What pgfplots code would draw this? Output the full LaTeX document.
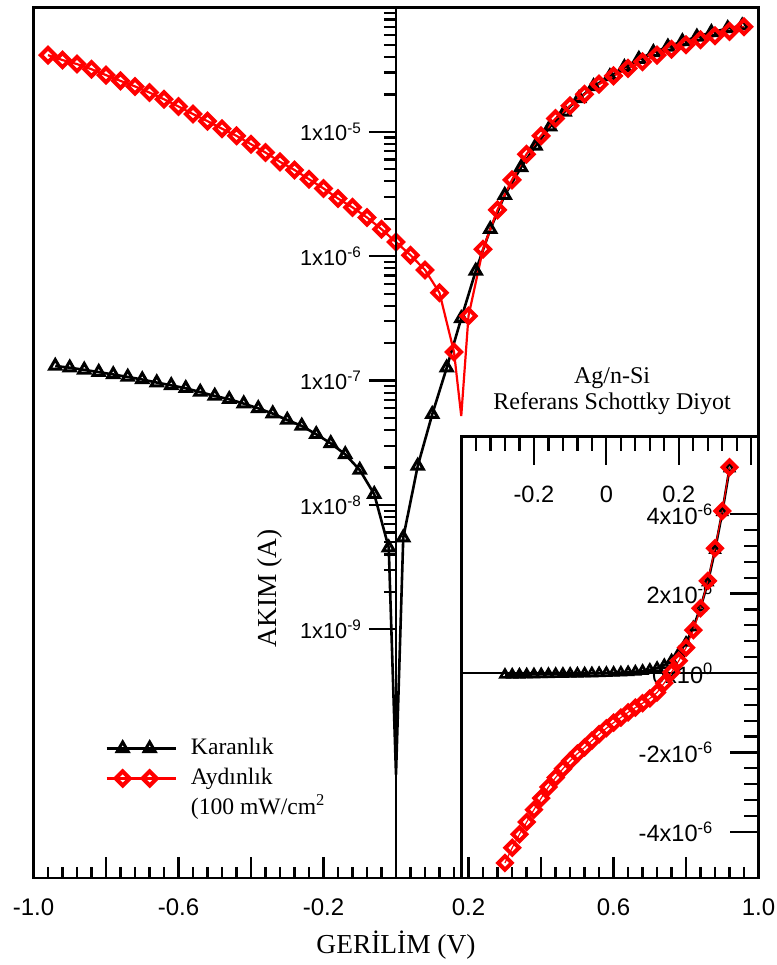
\documentclass[border=0pt]{standalone}
\usepackage{pgfplots}
\pgfplotsset{compat=1.18}
\usepackage{pgfplotstable}
\usepackage{fontspec}
\setmainfont{Liberation Serif}
\newfontfamily\arial{Liberation Sans}

% Dark current, log scale (V in volts, I in amperes); the V = 0 row is the dip of the line
\pgfplotstableread{
V I
-0.94 1.31e-7
-0.90 1.27e-7
-0.86 1.22e-7
-0.82 1.17e-7
-0.78 1.12e-7
-0.74 1.07e-7
-0.70 1.02e-7
-0.66 9.64e-8
-0.62 9.16e-8
-0.58 8.67e-8
-0.54 8.09e-8
-0.50 7.52e-8
-0.46 7.08e-8
-0.42 6.53e-8
-0.38 5.98e-8
-0.34 5.43e-8
-0.30 4.82e-8
-0.26 4.32e-8
-0.22 3.70e-8
-0.18 3.13e-8
-0.14 2.55e-8
-0.10 1.91e-8
-0.06 1.22e-8
-0.02 4.53e-9
0.00 6.8e-11
0.02 5.46e-9
0.06 2.06e-8
0.10 5.36e-8
0.14 1.27e-7
0.18 3.16e-7
0.22 7.62e-7
0.26 1.65e-6
0.30 3.10e-6
0.345 5.18e-6
0.385 7.71e-6
0.425 1.10e-5
0.465 1.45e-5
0.505 1.86e-5
0.545 2.32e-5
0.59 2.79e-5
0.63 3.30e-5
0.67 3.85e-5
0.71 4.36e-5
0.75 4.83e-5
0.79 5.33e-5
0.83 5.81e-5
0.87 6.31e-5
0.915 6.79e-5
0.955 7.13e-5
}\darkmain

% Illuminated current, log scale; the V = 0.18 row is the dip of the line
\pgfplotstableread{
V I
-0.96 4.14e-5
-0.92 3.78e-5
-0.88 3.51e-5
-0.84 3.19e-5
-0.80 2.86e-5
-0.76 2.57e-5
-0.72 2.32e-5
-0.68 2.07e-5
-0.64 1.83e-5
-0.60 1.60e-5
-0.56 1.39e-5
-0.52 1.22e-5
-0.48 1.06e-5
-0.44 9.29e-6
-0.40 7.96e-6
-0.36 6.82e-6
-0.32 5.74e-6
-0.28 4.94e-6
-0.24 4.16e-6
-0.20 3.51e-6
-0.16 2.91e-6
-0.12 2.47e-6
-0.08 2.05e-6
-0.04 1.65e-6
0.00 1.30e-6
0.04 1.02e-6
0.08 7.76e-7
0.12 5.08e-7
0.16 1.70e-7
0.18 5.19e-8
0.20 3.31e-7
0.24 1.14e-6
0.28 2.36e-6
0.32 4.11e-6
0.36 6.62e-6
0.40 9.29e-6
0.44 1.28e-5
0.48 1.62e-5
0.52 2.01e-5
0.56 2.42e-5
0.60 2.82e-5
0.64 3.24e-5
0.68 3.66e-5
0.72 4.14e-5
0.76 4.62e-5
0.80 5.01e-5
0.84 5.50e-5
0.88 5.92e-5
0.92 6.43e-5
0.96 7.00e-5
}\lightmain

% Linear-scale I-V near zero bias
\pgfplotstableread{
V Idark Ilight
-0.28 -4.5e-8 -4.78e-6
-0.26 -4.3e-8 -4.40e-6
-0.24 -4.0e-8 -4.06e-6
-0.22 -3.7e-8 -3.75e-6
-0.20 -3.4e-8 -3.44e-6
-0.18 -3.1e-8 -3.15e-6
-0.16 -2.8e-8 -2.87e-6
-0.14 -2.5e-8 -2.63e-6
-0.12 -2.2e-8 -2.41e-6
-0.10 -1.9e-8 -2.21e-6
-0.08 -1.6e-8 -2.03e-6
-0.06 -1.2e-8 -1.87e-6
-0.04 -8e-9 -1.70e-6
-0.02 -4e-9 -1.54e-6
0.00 0 -1.39e-6
0.02 5e-9 -1.25e-6
0.04 1.2e-8 -1.12e-6
0.06 2.1e-8 -0.99e-6
0.08 3.5e-8 -0.87e-6
0.10 5.4e-8 -0.76e-6
0.12 8.2e-8 -0.64e-6
0.14 1.27e-7 -0.49e-6
0.16 2.0e-7 -0.25e-6
0.18 3.16e-7 0.02e-6
0.20 5.0e-7 0.31e-6
0.22 7.6e-7 0.64e-6
0.24 1.15e-6 1.08e-6
0.26 1.65e-6 1.63e-6
0.28 2.28e-6 2.32e-6
0.30 3.10e-6 3.14e-6
0.32 4.05e-6 4.08e-6
0.34 5.15e-6 5.18e-6
}\inset

\pgfplotsset{
  darkstyle/.style={black, line width=1.3pt, mark=triangle, mark size=3.2pt,
    mark options={solid, line width=1.5pt}},
  lightstyle/.style={red, line width=1.1pt, mark=square, mark size=2.5pt,
    mark options={solid, rotate=45, line width=2pt}},
}

\begin{document}
\begin{tikzpicture}
\useasboundingbox (-16.75pt,-43.5pt) rectangle (371.75pt,439pt);

% main log-scale panel
\begin{axis}[
  at={(0,0)}, anchor=south west,
  scale only axis, width=362.5pt, height=435.25pt,
  xmin=-1, xmax=1, ymode=log, ymin=1e-11, ymax=1e-4,
  axis line style={line width=1.3pt},
  xtick={-1,-0.8,-0.6,-0.4,-0.2,0,0.2,0.4,0.6,0.8,1},
  xticklabels={-1.0,,-0.6,,-0.2,,0.2,,0.6,,1.0},
  minor x tick num=4,
  xtick pos=lower,
  ymajorticks=false, yminorticks=false,
  tick align=inside,
  major tick length=10.5pt, minor tick length=5.5pt,
  every tick/.style={black, line width=1.1pt},
  xticklabel style={font=\arial\fontsize{12}{14}\selectfont, anchor=north, yshift=-7pt},
  xlabel={GERİLİM (V)},
  xlabel style={font=\fontsize{13.7}{16}\selectfont, at={(axis description cs:0.5,0)}, anchor=center, yshift=-33.5pt},
  legend style={at={(rel axis cs:0.0986,0.1654)}, anchor=north west, draw=none, fill=none,
    inner sep=0pt, column sep=6pt, row sep=1pt, font=\fontsize{11.8}{14}\selectfont,
    nodes={inner sep=1pt, text height=9pt, text depth=3pt}},
  legend cell align=left,
  legend image code/.code={\draw[#1, mark indices={2,3}] plot coordinates {(0pt,0pt) (8pt,0pt) (21.5pt,0pt) (34.5pt,0pt)};},
]
\addplot[darkstyle, mark indices={1,2,3,4,5,6,7,8,9,10,11,12,13,14,15,16,17,18,19,20,21,22,23,24,26,27,28,29,30,31,32,33,34,35,36,37,38,39,40,41,42,43,44,45,46,47,48,49}]
  table[x=V, y=I] {\darkmain};
\addlegendentry{Karanlık}
\addplot[lightstyle, mark indices={1,2,3,4,5,6,7,8,9,10,11,12,13,14,15,16,17,18,19,20,21,22,23,24,25,26,27,28,29,31,32,33,34,35,36,37,38,39,40,41,42,43,44,45,46,47,48,49,50}]
  table[x=V, y=I] {\lightmain};
\addlegendentry{Aydınlık}
\addlegendimage{empty legend}
\addlegendentry{(100 mW/cm\textsuperscript{2}}
\node[align=center, font=\fontsize{12}{13}\selectfont] at (rel axis cs:0.798,0.5594) {Ag/n-Si\\Referans Schottky Diyot};
\end{axis}

% vertical current axis through V = 0
\begin{axis}[
  at={(181.25pt,0)}, anchor=south west,
  scale only axis, width=181.25pt, height=435.25pt,
  xmin=0, xmax=1, ymode=log, ymin=1e-11, ymax=1e-4,
  axis x line=none, axis y line=left,
  axis line style={-, line width=1.3pt},
  tick align=outside,
  major tick length=13.5pt, minor tick length=6pt,
  every tick/.style={black, line width=1.1pt},
  ytick={1e-9,1e-8,1e-7,1e-6,1e-5,1e-4},
  yticklabels={1x10\textsuperscript{-9},1x10\textsuperscript{-8},1x10\textsuperscript{-7},1x10\textsuperscript{-6},1x10\textsuperscript{-5},{}},
  minor ytick={2e-9,3e-9,4e-9,5e-9,6e-9,7e-9,8e-9,9e-9,
    2e-8,3e-8,4e-8,5e-8,6e-8,7e-8,8e-8,9e-8,
    2e-7,3e-7,4e-7,5e-7,6e-7,7e-7,8e-7,9e-7,
    2e-6,3e-6,4e-6,5e-6,6e-6,7e-6,8e-6,9e-6,
    2e-5,3e-5,4e-5,5e-5,6e-5,7e-5,8e-5,9e-5},
  yticklabel style={font=\arial\fontsize{10.9}{12}\selectfont},
  ylabel={AKIM (A)},
  ylabel style={font=\fontsize{13.7}{16}\selectfont, at={(ticklabel cs:0.333,2pt)}},
]
\end{axis}

% linear-scale inset
\begin{axis}[
  at={(214pt,0)}, anchor=south west,
  scale only axis, width=148.5pt, height=220.65pt,
  xmin=-0.4, xmax=0.42, ymin=-5.16e-6, ymax=5.95e-6,
  axis line style={line width=1.3pt},
  xtick={-0.4,-0.2,0,0.2,0.4}, xticklabels={,-0.2,0,0.2,},
  minor x tick num=4,
  ytick={-4e-6,-2e-6,0,2e-6,4e-6},
  yticklabels={-4x10\textsuperscript{-6},-2x10\textsuperscript{-6},0x10\textsuperscript{0},2x10\textsuperscript{-6},4x10\textsuperscript{-6}},
  minor y tick num=4,
  scaled y ticks=false,
  xtick pos=upper, ytick pos=right,
  xticklabel pos=upper, yticklabel pos=right,
  tick align=inside,
  major tick length=14pt, minor tick length=7pt,
  every tick/.style={black, line width=1.1pt},
  xticklabel style={font=\arial\fontsize{11.8}{14}\selectfont, anchor=north, yshift=-21pt},
  yticklabel style={font=\arial\fontsize{11.8}{14}\selectfont, anchor=east, xshift=-19pt},
]
\addplot[black, line width=1pt] coordinates {(-0.4,0) (0.42,0)};
\addplot[black, line width=1.3pt, mark=triangle, mark size=2.6pt, mark options={solid, line width=1.3pt}]
  table[x=V, y=Idark] {\inset};
\addplot[red, line width=0.6pt, mark=square, mark size=2.4pt, mark options={solid, rotate=45, line width=2pt}]
  table[x=V, y=Ilight] {\inset};
\end{axis}
\end{tikzpicture}
\end{document}
